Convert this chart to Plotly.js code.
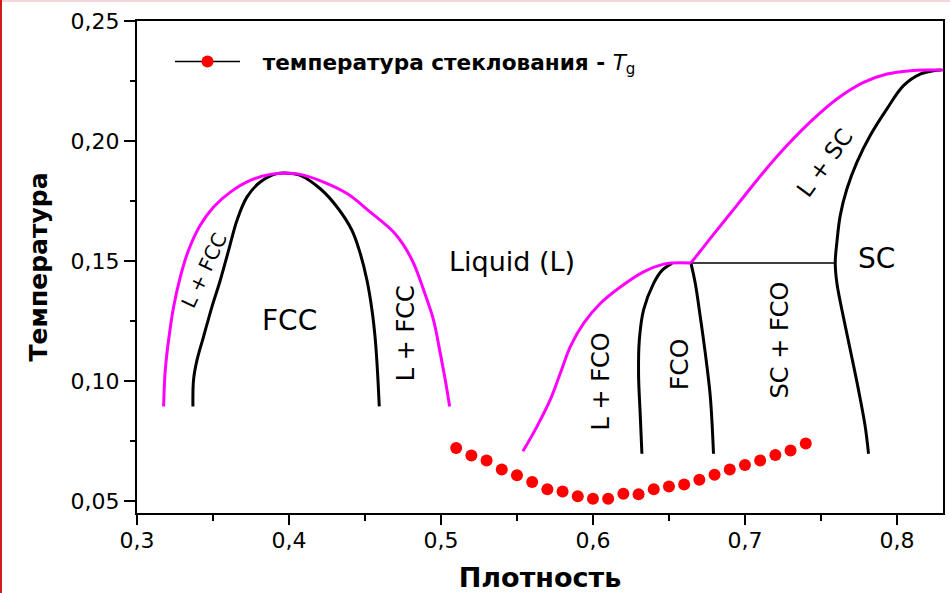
<!DOCTYPE html>
<html>
<head>
<meta charset="utf-8">
<script src="https://cdn.plot.ly/plotly-3.0.1.min.js"></script>
<style>
  html, body { margin: 0; padding: 0; background: #ffffff; }
  #wrap { position: relative; width: 950px; height: 593px; }
  #chart { width: 950px; height: 593px; }
  #edgeLeft { position: absolute; left: 0; top: 0; width: 2px; height: 593px; background: #d01c1c; }
  #edgeTop { position: absolute; left: 0; top: 0; width: 950px; height: 2px; background: #f4d6d6; }
</style>
</head>
<body>
<div id="wrap">
  <div id="chart"></div>
  <div id="edgeTop"></div>
  <div id="edgeLeft"></div>
</div>
<script>
// ---- Glass transition temperature (red dots) ----
const tgDensity = [0.51, 0.52, 0.53, 0.54, 0.55, 0.56, 0.57, 0.58, 0.59, 0.60, 0.61, 0.62,
                   0.63, 0.64, 0.65, 0.66, 0.67, 0.68, 0.69, 0.70, 0.71, 0.72, 0.73, 0.74];
const tgTemp = [0.0723, 0.0692, 0.0671, 0.0633, 0.0609, 0.0581, 0.0551, 0.0542, 0.0522, 0.0511, 0.0511, 0.0532,
                0.0530, 0.0551, 0.0562, 0.0571, 0.0591, 0.0611, 0.0633, 0.0652, 0.0671, 0.0694, 0.0712, 0.0742];

// ---- FCC liquidus (magenta dome) ----
const fccLiqX = [0.3175, 0.3186, 0.3208, 0.3241, 0.3285, 0.3339, 0.3416, 0.3504, 0.3614, 0.3745, 0.3877, 0.3989,
                 0.4074, 0.4228, 0.4382, 0.4535, 0.4688, 0.4754, 0.4820, 0.4886, 0.4951, 0.4995, 0.5028, 0.5057];
const fccLiqY = [0.0896, 0.1048, 0.1173, 0.1311, 0.1436, 0.1547, 0.1651, 0.1727, 0.1789, 0.1838, 0.1863, 0.1868,
                 0.1863, 0.1831, 0.1783, 0.1706, 0.1623, 0.1568, 0.1492, 0.1381, 0.1256, 0.1118, 0.1007, 0.0896];

// ---- FCC solidus (black dome) ----
const fccSolX = [0.3368, 0.3372, 0.3395, 0.3438, 0.3493, 0.3548, 0.3603, 0.3658, 0.3724, 0.3811, 0.3921, 0.3989,
                 0.4074, 0.4206, 0.4316, 0.4414, 0.4469, 0.4513, 0.4546, 0.4568, 0.4583, 0.4594];
const fccSolY = [0.0896, 0.1007, 0.1090, 0.1187, 0.1311, 0.1422, 0.1547, 0.1672, 0.1769, 0.1831, 0.1866, 0.1868,
                 0.1859, 0.1803, 0.1727, 0.1630, 0.1533, 0.1422, 0.1298, 0.1173, 0.1034, 0.0896];

// ---- FCO liquidus (magenta) ----
const fcoLiqX = [0.5539, 0.5632, 0.5719, 0.5785, 0.5851, 0.5938, 0.6048, 0.6180, 0.6333, 0.6464, 0.6522, 0.6645];
const fcoLiqY = [0.0709, 0.0813, 0.0924, 0.1034, 0.1145, 0.1242, 0.1325, 0.1394, 0.1457, 0.1489, 0.1494, 0.1494];

// ---- SC liquidus (magenta) ----
const scLiqX = [0.6645, 0.6772, 0.6947, 0.7122, 0.7276, 0.7451, 0.7605, 0.7780, 0.7934, 0.8088, 0.8219, 0.8303];
const scLiqY = [0.1494, 0.1596, 0.1734, 0.1872, 0.1983, 0.2094, 0.2177, 0.2246, 0.2281, 0.2295, 0.2298, 0.2298];

// ---- FCO phase boundaries (black) ----
const fcoLeftX = [0.6322, 0.6311, 0.6300, 0.6305, 0.6333, 0.6399, 0.6456, 0.6520];
const fcoLeftY = [0.0699, 0.0861, 0.1027, 0.1173, 0.1298, 0.1409, 0.1464, 0.1492];
const fcoRightX = [0.6645, 0.6673, 0.6706, 0.6739, 0.6772, 0.6793];
const fcoRightY = [0.1492, 0.1409, 0.1270, 0.1118, 0.0937, 0.0699];

// ---- SC solidus (black) ----
const scSolX = [0.7813, 0.7791, 0.7747, 0.7693, 0.7638, 0.7605, 0.7594, 0.7605, 0.7627, 0.7671, 0.7737, 0.7824,
                0.7934, 0.8043, 0.8153, 0.8241, 0.8290];
const scSolY = [0.0699, 0.0813, 0.0965, 0.1131, 0.1298, 0.1409, 0.1494, 0.1581, 0.1692, 0.1803, 0.1914, 0.2025,
                0.2136, 0.2233, 0.2281, 0.2295, 0.2298];

// ---- Tie line FCO / SC ----
const tieX = [0.6645, 0.7594];
const tieY = [0.1494, 0.1494];

// ---- Texts ----
const xTitle = 'Плотность';
const yTitle = 'Температура';
const legendLabel = '\u2002\u00A0<b>температура стеклования - </b><i>T</i><sub>g</sub>';

const MAG = '#ff00ff';
const BLK = '#000000';
const FONT = 'DejaVu Sans, Arial, sans-serif';

function curve(x, y, color, width, shape) {
  return { x: x, y: y, type: 'scatter', mode: 'lines', showlegend: false, hoverinfo: 'skip',
           line: { color: color, width: width, shape: shape || 'spline', smoothing: 1 } };
}

const traces = [
  curve(fccSolX, fccSolY, BLK, 3),
  curve(fcoLeftX, fcoLeftY, BLK, 3),
  curve(fcoRightX, fcoRightY, BLK, 3),
  curve(scSolX, scSolY, BLK, 3),
  curve(tieX, tieY, BLK, 1.5, 'linear'),
  curve(fccLiqX, fccLiqY, MAG, 3),
  curve(fcoLiqX, fcoLiqY, MAG, 3),
  curve(scLiqX, scLiqY, MAG, 3),
  { x: tgDensity, y: tgTemp, type: 'scatter', mode: 'markers', showlegend: false,
    marker: { color: '#ff0000', size: 12 } },
  { x: [null], y: [null], type: 'scatter', mode: 'lines+markers', name: legendLabel, showlegend: true,
    line: { color: BLK, width: 1.5 }, marker: { color: '#ff0000', size: 12 } }
];

function label(text, x, y, angle, size) {
  return { text: text, x: x, y: y, xref: 'x', yref: 'y', showarrow: false, textangle: angle,
           xanchor: 'center', yanchor: 'middle', font: { family: FONT, size: size, color: '#000' } };
}

const layout = {
  width: 950, height: 593,
  margin: { l: 137, r: 7, t: 21, b: 80, pad: 0 },
  paper_bgcolor: '#ffffff', plot_bgcolor: '#ffffff',
  separators: ', ',
  font: { family: FONT, color: '#000' },
  showlegend: true,
  legend: { x: (170 - 137) / 806, y: 0.9167, xanchor: 'left', yanchor: 'middle', bgcolor: 'rgba(0,0,0,0)',
            itemwidth: 65,
            font: { family: FONT, size: 21.6, color: '#000' } },
  xaxis: {
    range: [0.3, 0.8303], tick0: 0.3, dtick: 0.1, tickformat: '.1f',
    showgrid: false, zeroline: false,
    showline: true, linecolor: '#000', linewidth: 2, mirror: true,
    ticks: 'outside', ticklen: 10, tickwidth: 2, tickcolor: '#000', ticklabelstandoff: -3,
    minor: { ticks: 'outside', ticklen: 6, tickwidth: 2, tickcolor: '#000', dtick: 0.05, tick0: 0.3, showgrid: false },
    tickfont: { family: FONT, size: 22, color: '#000' },
    title: { text: '<b>' + xTitle + '</b>', font: { family: FONT, size: 27, color: '#000' }, standoff: 20 }
  },
  yaxis: {
    range: [0.0452, 0.2502], tick0: 0.05, dtick: 0.05, tickformat: '.2f',
    showgrid: false, zeroline: false,
    showline: true, linecolor: '#000', linewidth: 2, mirror: true,
    ticks: 'outside', ticklen: 11, tickwidth: 2, tickcolor: '#000',
    minor: { ticks: 'outside', ticklen: 5, tickwidth: 2, tickcolor: '#000', dtick: 0.025, tick0: 0.05, showgrid: false },
    tickfont: { family: FONT, size: 22, color: '#000' },
    title: { text: '<b>' + yTitle + '</b>', font: { family: FONT, size: 25, color: '#000' }, standoff: 16 }
  },
  annotations: [
    label('Liquid (L)', 0.5466, 0.1498, 0, 27),
    label('FCC', 0.4001, 0.1256, 0, 28),
    label('L + FCC', 0.3443, 0.1464, -65, 20),
    label('L + FCC', 0.4770, 0.1201, -90, 24),
    label('L + FCO', 0.6053, 0.1000, -90, 24),
    label('FCO', 0.6574, 0.1073, -90, 25),
    label('SC + FCO', 0.7227, 0.1173, -90, 24),
    label('SC', 0.7868, 0.1512, 0, 28),
    label('L + SC', 0.7523, 0.1911, -54, 23)
  ]
};

Plotly.newPlot('chart', traces, layout, { displayModeBar: false, staticPlot: true });
</script>
</body>
</html>
